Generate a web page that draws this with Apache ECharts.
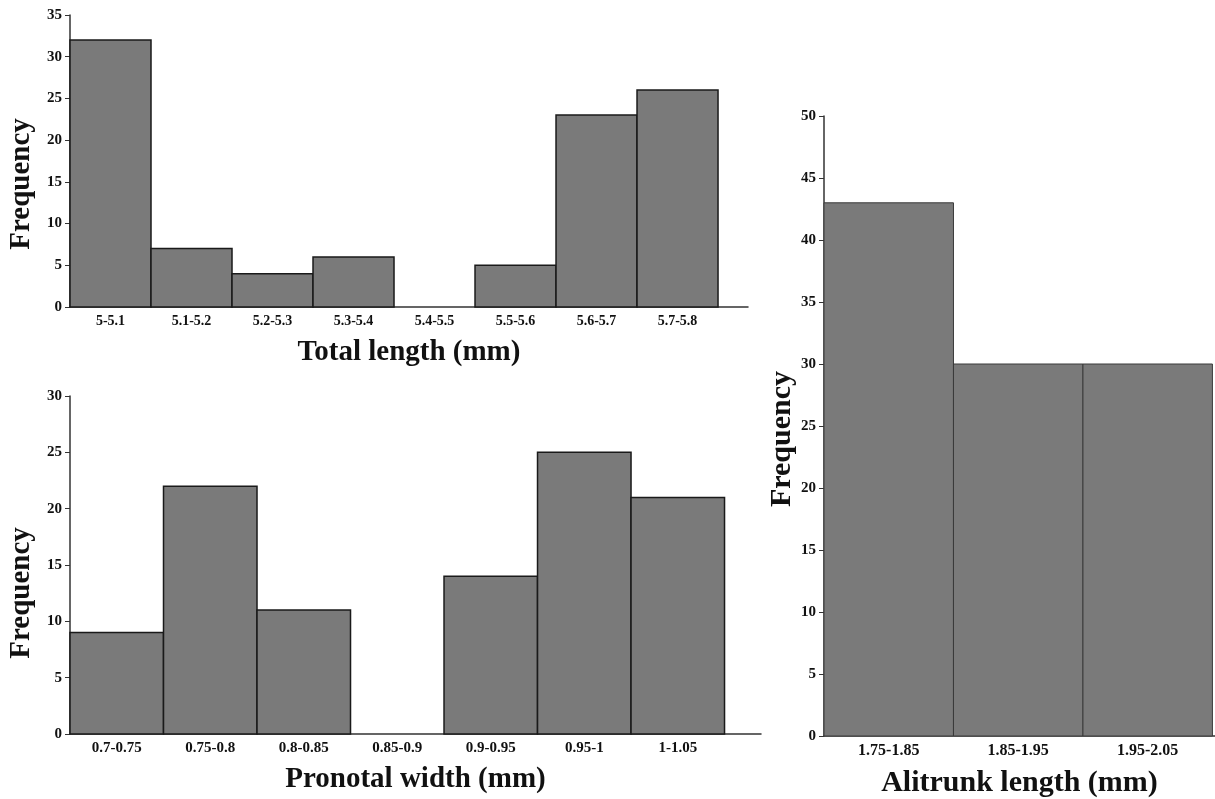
<!DOCTYPE html>
<html>
<head>
<meta charset="utf-8">
<script src="https://cdn.jsdelivr.net/npm/echarts@6/dist/echarts.min.js"></script>
<style>
  html, body { margin: 0; padding: 0; background: #fff; }
  #chart { width: 1215px; height: 799px; }
</style>
</head>
<body>
<div id="chart"></div>
<script>
// Total length (mm)
const totalBins = ['5-5.1', '5.1-5.2', '5.2-5.3', '5.3-5.4', '5.4-5.5', '5.5-5.6', '5.6-5.7', '5.7-5.8'];
const totalFreq = [32, 7, 4, 6, 0, 5, 23, 26];

// Pronotal width (mm)
const pronotalBins = ['0.7-0.75', '0.75-0.8', '0.8-0.85', '0.85-0.9', '0.9-0.95', '0.95-1', '1-1.05'];
const pronotalFreq = [9, 22, 11, 0, 14, 25, 21];

// Alitrunk length (mm)
const alitrunkBins = ['1.75-1.85', '1.85-1.95', '1.95-2.05'];
const alitrunkFreq = [43, 30, 30];

const serif = '"Liberation Serif", "Times New Roman", serif';
const axisColor = '#333';

// x axis as a value axis: bin i covers [i, i+1], label sits at i + 0.5
const makeXAxis = (idx, bins, max, name, labelSize, nameSize, nameGap) => ({
  type: 'value',
  gridIndex: idx,
  min: 0,
  max: max,
  interval: 0.5,
  splitLine: { show: false },
  axisTick: { show: false },
  axisLine: { lineStyle: { color: axisColor, width: 1.5 } },
  axisLabel: {
    showMaxLabel: false,
    margin: 7,
    color: '#111',
    fontFamily: serif,
    fontWeight: 'bold',
    fontSize: labelSize,
    formatter: (v) => {
      const i = v - 0.5;
      return Number.isInteger(i) && bins[i] ? bins[i] : '';
    }
  },
  name: name,
  nameLocation: 'middle',
  nameGap: nameGap,
  nameTextStyle: { color: '#111', fontFamily: serif, fontWeight: 'bold', fontSize: nameSize }
});

const makeYAxis = (idx, max, gap, nameSize, pad) => ({
  type: 'value',
  gridIndex: idx,
  min: 0,
  max: max,
  interval: 5,
  splitLine: { show: false },
  axisLine: { show: true, lineStyle: { color: axisColor, width: 1.5 } },
  axisTick: { show: true, length: 5, lineStyle: { color: axisColor, width: 1 } },
  axisLabel: { margin: 8, color: '#111', fontFamily: serif, fontWeight: 'bold', fontSize: 15 },
  name: 'Frequency',
  nameLocation: 'middle',
  nameRotate: 90,
  nameGap: gap,
  nameTextStyle: { color: '#111', fontFamily: serif, fontWeight: 'bold', fontSize: nameSize, padding: pad }
});

const makeSeries = (idx, freq, stroke, lw) => ({
  type: 'custom',
  xAxisIndex: idx,
  yAxisIndex: idx,
  data: freq.map((v, i) => [i, v]),
  renderItem: (params, api) => {
    const i = api.value(0);
    const v = api.value(1);
    if (!v) return null;
    const p0 = api.coord([i, v]);
    const p1 = api.coord([i + 1, 0]);
    return {
      type: 'rect',
      shape: { x: p0[0], y: p0[1], width: p1[0] - p0[0], height: p1[1] - p0[1] },
      style: { fill: '#7a7a7a', stroke: stroke, lineWidth: lw }
    };
  }
});

const chart = echarts.init(document.getElementById('chart'));
chart.setOption({
  animation: false,
  backgroundColor: '#fff',
  grid: [
    { left: 70, top: 15, width: 678, height: 292, outerBoundsMode: 'none' },
    { left: 70, top: 396, width: 691, height: 338, outerBoundsMode: 'none' },
    { left: 824, top: 116, width: 391, height: 620, outerBoundsMode: 'none' }
  ],
  xAxis: [
    makeXAxis(0, totalBins, 8.37, 'Total length (mm)', 14, 29, 31),
    makeXAxis(1, pronotalBins, 7.39, 'Pronotal width (mm)', 15, 29, 31),
    makeXAxis(2, alitrunkBins, 3.02, 'Alitrunk length (mm)', 16, 30, 32)
  ],
  yAxis: [
    makeYAxis(0, 35, 34, 29, [0, 46, 0, 0]),
    makeYAxis(1, 30, 34, 29, [0, 56, 0, 0]),
    makeYAxis(2, 50, 27, 30, [0, 26, 0, 0])
  ],
  series: [
    makeSeries(0, totalFreq, '#1a1a1a', 1.5),
    makeSeries(1, pronotalFreq, '#1a1a1a', 1.5),
    makeSeries(2, alitrunkFreq, '#3a3a3a', 1)
  ]
});
</script>
</body>
</html>
